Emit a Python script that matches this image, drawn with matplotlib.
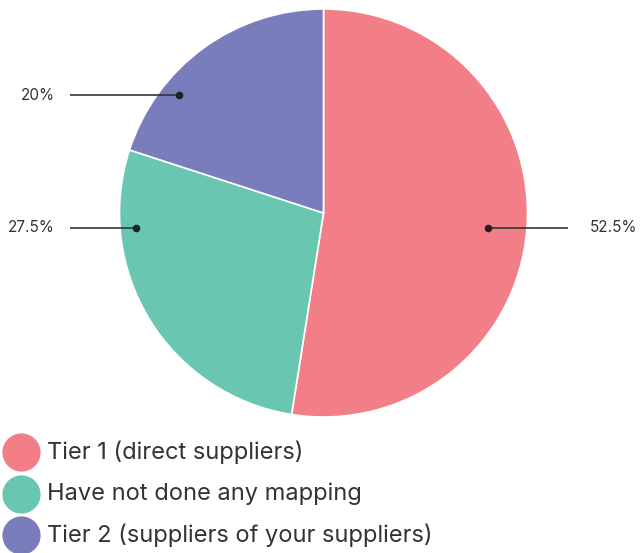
import matplotlib
matplotlib.use('Agg')
import matplotlib.pyplot as plt

categories = ['Tier 1 (direct suppliers)', 'Have not done any mapping',
              'Tier 2 (suppliers of your suppliers)']
values = [52.5, 27.5, 20]
colors = ['#F27F87', '#69C7B1', '#7A7DBB']

plt.rcParams['font.family'] = ['Inter', 'DejaVu Sans']
TEXT = '#333333'

W, H = 641, 553
fig = plt.figure(figsize=(W / 100, H / 100), dpi=100)
ax = fig.add_axes([0, 0, 1, 1])

# pie in pixel space (y measured from the bottom)
cx, cy, r = 323.5, H - 213, 204
ax.pie(values, colors=colors, startangle=90, counterclock=False,
       center=(cx, cy), radius=r, frame=True,
       wedgeprops=dict(edgecolor='white', linewidth=1.2))
ax.set_xlim(0, W)
ax.set_ylim(0, H)
ax.set_aspect('equal')
ax.axis('off')

# leader lines: (dot x, line y, line end x, text x, alignment)
leaders = [
    (488, 228, 568, 590, 'left'),
    (136, 228, 70, 55, 'right'),
    (179, 95, 70, 55, 'right'),
]
for v, (dx, ly, ex, tx, ha) in zip(values, leaders):
    y = H - ly
    ax.plot([dx, ex], [y, y], color=TEXT, lw=1.2, solid_capstyle='butt')
    ax.plot(dx, y, 'o', color='#222222', ms=4.5)
    ax.text(tx, y, f'{v:g}%', ha=ha, va='center', fontsize=11,
            color=TEXT)

# legend with large round markers
for i, (lab, col) in enumerate(zip(categories, colors)):
    y = H - (452 + 41.5 * i)
    ax.plot(21, y, 'o', color=col, ms=27.5, mec='none')
    ax.text(47, y, lab, ha='left', va='center', fontsize=17,
            color=TEXT)

fig.savefig('out.png', dpi=100)
plt.close(fig)
